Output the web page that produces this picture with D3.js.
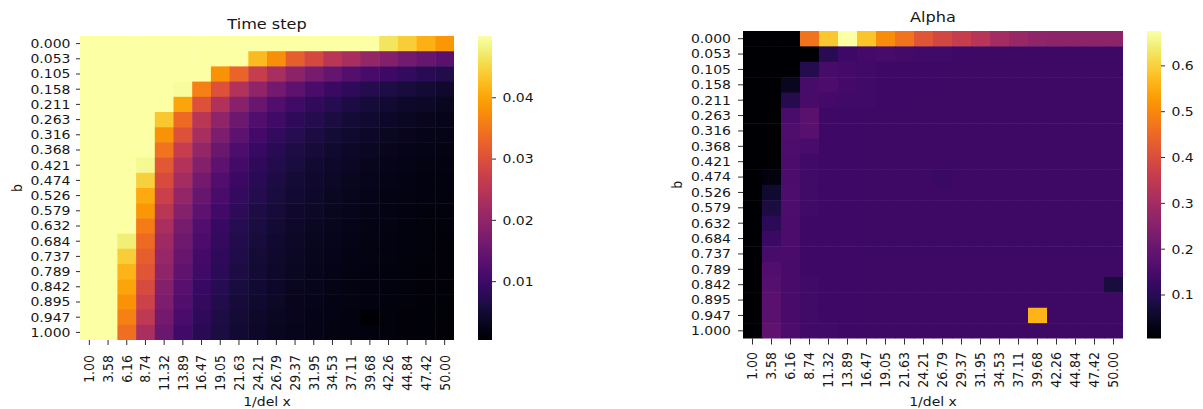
<!DOCTYPE html>
<html><head><meta charset="utf-8">
<script src="https://cdn.jsdelivr.net/npm/d3@7"></script>
<style>body{margin:0;background:#fff}svg text{font-family:"DejaVu Sans",sans-serif}</style>
</head><body><svg id="c" width="1203" height="409"></svg>
<script>
const xLabels=["1.00","3.58","6.16","8.74","11.32","13.89","16.47","19.05","21.63","24.21","26.79","29.37","31.95","34.53","37.11","39.68","42.26","44.84","47.42","50.00"];
const yLabels=["0.000","0.053","0.105","0.158","0.211","0.263","0.316","0.368","0.421","0.474","0.526","0.579","0.632","0.684","0.737","0.789","0.842","0.895","0.947","1.000"];

const timeStep=[
[.05,.05,.05,.05,.05,.05,.05,.05,.05,.05,.05,.05,.05,.05,.05,.05,.0465,.0440,.0411,.0386],
[.05,.05,.05,.05,.05,.05,.05,.05,.05,.0421,.0376,.0321,.0287,.0252,.0227,.0202,.0183,.0163,.0148,.0133],
[.05,.05,.05,.05,.05,.05,.05,.0381,.0326,.0267,.0227,.0192,.0168,.0145,.0126,.0111,.0098,.0087,.0077,.0068],
[.05,.05,.05,.05,.05,.0495,.0361,.0302,.0242,.0197,.0163,.0135,.0113,.0096,.0082,.0071,.0063,.0055,.0049,.0044],
[.05,.05,.05,.05,.05,.0401,.0302,.0237,.0188,.0150,.0123,.0101,.0084,.0072,.0062,.0054,.0047,.0042,.0037,.0033],
[.05,.05,.05,.05,.0436,.0336,.0252,.0197,.0155,.0123,.0101,.0083,.0070,.0060,.0052,.0045,.0039,.0035,.0031,.0027],
[.05,.05,.05,.05,.0381,.0302,.0227,.0173,.0135,.0108,.0088,.0073,.0061,.0052,.0045,.0039,.0034,.0030,.0027,.0024],
[.05,.05,.05,.05,.0346,.0267,.0202,.0153,.0118,.0093,.0077,.0064,.0054,.0046,.0039,.0034,.0030,.0027,.0024,.0021],
[.05,.05,.05,.0490,.0312,.0242,.0183,.0135,.0106,.0083,.0068,.0057,.0048,.0041,.0036,.0031,.0027,.0024,.0021,.0019],
[.05,.05,.05,.0445,.0292,.0222,.0163,.0123,.0096,.0076,.0062,.0052,.0044,.0038,.0033,.0028,.0025,.0022,.0019,.0017],
[.05,.05,.05,.0406,.0272,.0202,.0148,.0113,.0088,.0070,.0057,.0048,.0041,.0035,.0031,.0027,.0023,.0021,.0018,.0016],
[.05,.05,.05,.0386,.0252,.0185,.0135,.0103,.0081,.0064,.0053,.0044,.0038,.0033,.0028,.0025,.0022,.0019,.0017,.0015],
[.05,.05,.05,.0356,.0232,.0168,.0123,.0093,.0073,.0059,.0049,.0041,.0035,.0030,.0026,.0023,.0020,.0017,.0015,.0014],
[.05,.05,.0475,.0336,.0217,.0158,.0116,.0088,.0068,.0055,.0045,.0038,.0032,.0028,.0024,.0021,.0019,.0016,.0014,.0013],
[.05,.05,.0440,.0321,.0207,.0148,.0108,.0083,.0065,.0052,.0043,.0036,.0031,.0026,.0023,.0020,.0018,.0016,.0014,.0012],
[.05,.05,.0416,.0307,.0197,.0138,.0101,.0078,.0061,.0050,.0041,.0034,.0029,.0025,.0022,.0019,.0017,.0015,.0013,.0012],
[.05,.05,.0401,.0292,.0183,.0128,.0093,.0073,.0058,.0047,.0039,.0033,.0028,.0024,.0021,.0019,.0016,.0014,.0013,.0010],
[.05,.05,.0381,.0277,.0173,.0121,.0088,.0068,.0054,.0045,.0037,.0031,.0027,.0023,.0020,.0018,.0016,.0014,.0012,.0010],
[.05,.05,.0361,.0257,.0163,.0113,.0083,.0064,.0051,.0042,.0035,.0030,.0025,.0022,.0019,.0004,.0015,.0013,.0011,.0009],
[.05,.05,.0341,.0232,.0153,.0103,.0076,.0059,.0047,.0039,.0033,.0028,.0024,.0021,.0018,.0016,.0014,.0012,.0011,.0009]
];

const alpha=[
[.004,.004,.004,.467,.588,.675,.581,.507,.467,.413,.386,.359,.332,.302,.280,.265,.262,.262,.262,.262],
[.004,.004,.004,.004,.100,.135,.145,.148,.142,.140,.137,.133,.132,.132,.132,.132,.132,.132,.132,.132],
[.004,.004,.004,.095,.148,.145,.138,.134,.133,.133,.132,.132,.132,.132,.132,.132,.132,.132,.132,.132],
[.004,.004,.043,.148,.155,.145,.138,.134,.133,.133,.132,.132,.132,.132,.132,.132,.132,.132,.132,.132],
[.004,.004,.095,.150,.143,.140,.136,.134,.133,.132,.132,.132,.132,.132,.132,.132,.132,.132,.132,.132],
[.004,.004,.152,.178,.134,.133,.132,.132,.132,.132,.132,.132,.132,.132,.132,.132,.132,.132,.132,.132],
[.004,.004,.160,.172,.134,.133,.132,.132,.132,.132,.132,.132,.132,.132,.132,.132,.132,.132,.132,.132],
[.004,.004,.158,.152,.134,.133,.132,.132,.132,.132,.132,.132,.132,.132,.132,.132,.132,.132,.132,.132],
[.004,.004,.155,.138,.134,.133,.132,.132,.132,.132,.132,.132,.132,.132,.132,.132,.132,.132,.132,.132],
[.004,.020,.155,.137,.134,.133,.132,.132,.132,.132,.125,.132,.132,.132,.132,.132,.132,.132,.132,.132],
[.004,.060,.158,.136,.134,.133,.132,.132,.132,.132,.132,.132,.132,.132,.132,.132,.132,.132,.132,.132],
[.004,.080,.158,.136,.134,.133,.132,.132,.132,.132,.132,.132,.132,.132,.132,.132,.132,.132,.132,.132],
[.004,.104,.156,.135,.134,.133,.132,.132,.132,.132,.132,.132,.132,.132,.132,.132,.132,.132,.132,.132],
[.004,.125,.156,.135,.134,.133,.132,.132,.132,.132,.132,.132,.132,.132,.132,.132,.132,.132,.132,.132],
[.004,.148,.153,.135,.134,.133,.132,.132,.132,.132,.132,.132,.132,.132,.132,.132,.132,.132,.132,.132],
[.004,.165,.150,.135,.134,.133,.132,.132,.132,.132,.132,.132,.132,.132,.132,.132,.132,.132,.132,.132],
[.004,.170,.150,.136,.134,.133,.132,.132,.132,.132,.132,.132,.132,.132,.132,.132,.132,.132,.132,.077],
[.004,.175,.150,.136,.134,.133,.132,.132,.132,.132,.132,.132,.132,.132,.132,.132,.132,.132,.132,.132],
[.004,.178,.150,.137,.134,.133,.132,.132,.132,.132,.132,.132,.132,.132,.132,.560,.132,.132,.132,.132],
[.004,.185,.155,.140,.136,.134,.132,.132,.132,.132,.132,.132,.132,.132,.132,.132,.132,.132,.132,.132]
];

const timeStepTicks=[0.01,0.02,0.03,0.04];
const alphaTicks=[0.1,0.2,0.3,0.4,0.5,0.6];

const SX=1.12, FS=12.5, INK="#161616";
const svg=d3.select("#c");
const defs=svg.append("defs");

function panel(o){
  const g=svg.append("g");
  const x=d3.scaleBand().domain(xLabels).range([o.x0,o.x1]);
  const y=d3.scaleBand().domain(yLabels).range([o.y0,o.y1]);
  const ext=d3.extent(o.data.flat());
  const color=d3.scaleSequential(d3.interpolateInferno).domain(ext);
  const cells=[];
  o.data.forEach((row,i)=>row.forEach((v,j)=>cells.push({r:yLabels[i],c:xLabels[j],v})));
  g.selectAll("rect.cell").data(cells).join("rect").attr("class","cell")
    .attr("x",d=>x(d.c)).attr("y",d=>y(d.r))
    .attr("width",d=>x.bandwidth()+(d.c===xLabels[xLabels.length-1]?0:0.5))
    .attr("height",d=>y.bandwidth()+(d.r===yLabels[yLabels.length-1]?0:0.5))
    .attr("fill",d=>color(d.v));

  const xa=g.append("g").attr("transform",`translate(0,${o.y1})`)
    .call(d3.axisBottom(x).tickSize(o.xtick).tickPadding(0));
  xa.attr("color",INK).attr("font-family","DejaVu Sans").attr("font-size",FS);
  xa.select(".domain").remove();
  xa.selectAll(".tick line").attr("stroke-width",0.9);
  xa.selectAll(".tick text").attr("x",null).attr("y",null).attr("dy","0.35em")
    .attr("text-anchor","end")
    .attr("transform",`translate(0,${o.xlab}) scale(${SX},1) rotate(-90)`);

  const ya=g.append("g").attr("transform",`translate(${o.x0},0)`)
    .call(d3.axisLeft(y).tickSize(o.ytick).tickPadding(0));
  ya.attr("color",INK).attr("font-family","DejaVu Sans").attr("font-size",FS);
  ya.select(".domain").remove();
  ya.selectAll(".tick line").attr("stroke-width",0.9);
  ya.selectAll(".tick text").attr("x",null).attr("dy","0.35em")
    .attr("text-anchor","end")
    .attr("transform",`translate(${-o.ylab},0) scale(${SX},1)`);

  const gid="grad"+o.id;
  const grad=defs.append("linearGradient").attr("id",gid)
    .attr("x1",0).attr("y1",1).attr("x2",0).attr("y2",0);
  d3.range(0,1.0001,0.025).forEach(t=>{
    grad.append("stop").attr("offset",t).attr("stop-color",d3.interpolateInferno(t));
  });
  g.append("rect").attr("x",o.cbx).attr("y",o.y0).attr("width",o.cbw)
    .attr("height",o.y1-o.y0).attr("fill",`url(#${gid})`);
  const cs=d3.scaleLinear().domain(ext).range([o.y1,o.y0]);
  const ca=g.append("g").attr("transform",`translate(${o.cbx+o.cbw},0)`)
    .call(d3.axisRight(cs).tickValues(o.ticks).tickFormat(d3.format(o.fmt)).tickSize(4).tickPadding(0));
  ca.attr("color",INK).attr("font-family","DejaVu Sans").attr("font-size",FS);
  ca.select(".domain").remove();
  ca.selectAll(".tick line").attr("stroke-width",0.9);
  ca.selectAll(".tick text").attr("x",null).attr("dy","0.35em").attr("text-anchor","start")
    .attr("transform",`translate(10.5,0) scale(${SX},1)`);

  const cx=(o.x0+o.x1)/2, cy=(o.y0+o.y1)/2;
  g.append("text").attr("transform",`translate(${cx},${o.titleY}) scale(${SX},1)`)
    .attr("text-anchor","middle").attr("font-size",14.4).attr("fill",INK).text(o.title);
  g.append("text").attr("transform",`translate(${cx},406) scale(${SX},1)`)
    .attr("text-anchor","middle").attr("font-size",FS).attr("fill",INK).text("1/del x");
  g.append("text").attr("transform",`translate(${o.bx},${cy}) scale(${SX},1) rotate(-90)`)
    .attr("text-anchor","middle").attr("font-size",FS).attr("fill",INK).text("b");
}

panel({id:1,data:timeStep,title:"Time step",x0:80,x1:454,y0:36,y1:340,
  xtick:5,xlab:15,ytick:4,ylab:9.5,cbx:478,cbw:14,ticks:timeStepTicks,fmt:".2f",titleY:28.5,bx:21.5});
panel({id:2,data:alpha,title:"Alpha",x0:743,x1:1123,y0:31,y1:338.5,
  xtick:6,xlab:13.5,ytick:5,ylab:12,cbx:1147,cbw:14,ticks:alphaTicks,fmt:".1f",titleY:22,bx:682});
</script></body></html>
